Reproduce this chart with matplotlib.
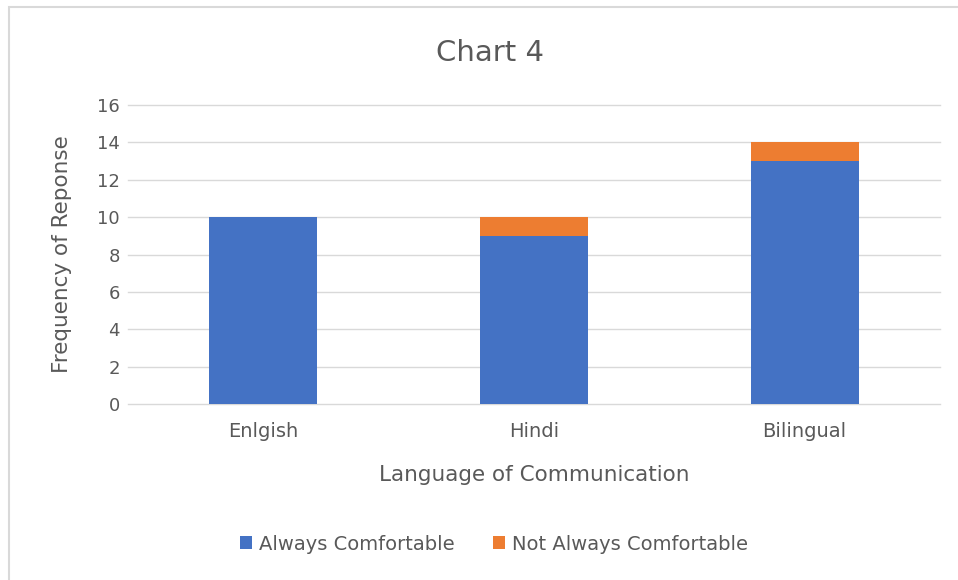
import matplotlib.pyplot as plt
from matplotlib.patches import Rectangle

languages = ['Enlgish', 'Hindi', 'Bilingual']
always = [10, 9, 13]
not_always = [0, 1, 1]
yticks = [0, 2, 4, 6, 8, 10, 12, 14, 16]

blue = '#4472C4'
orange = '#ED7D31'
grey = '#595959'

plt.rcParams['font.family'] = ['DejaVu Sans']

fig = plt.figure(figsize=(9.58, 5.8), dpi=100)
W, H = 958, 580

# light outer frame of the chart area
fig.patches.append(Rectangle((8.5 / W, -0.05), 1.0, 1 - 6.5 / H + 0.05,
                             transform=fig.transFigure, fill=False,
                             edgecolor='#D9D9D9', linewidth=1.5))

ax = fig.add_axes([128 / W, 1 - 404 / H, (940 - 128) / W, (404 - 105) / H])
x = range(len(languages))
ax.bar(x, always, width=0.4, color=blue, label='Always Comfortable', zorder=3)
ax.bar(x, not_always, width=0.4, bottom=always, color=orange,
       label='Not Always Comfortable', zorder=3)

ax.set_xlim(-0.5, 2.5)
ax.set_ylim(0, 16)
ax.set_yticks(yticks)
ax.set_xticks(list(x))
ax.set_xticklabels(languages)
ax.grid(axis='y', color='#D9D9D9', linewidth=1, zorder=0)
for gl in ax.get_ygridlines():
    gl.set_clip_on(False)
for s in ax.spines.values():
    s.set_visible(False)
ax.tick_params(length=0, colors=grey)
ax.tick_params(axis='x', pad=13, labelsize=14)
ax.tick_params(axis='y', pad=6, labelsize=13)

ax.set_xlabel('Language of Communication', fontsize=15.5, color=grey, va='center')
ax.xaxis.set_label_coords(0.5, -(475 - 404) / 299)
ax.set_ylabel('Frequency of Reponse', fontsize=15.5, color=grey, va='center')
ax.yaxis.set_label_coords((62 - 128) / 812, 0.5)
fig.text(490 / W, 1 - 53 / H, 'Chart 4', ha='center', va='center',
         fontsize=21, color=grey)

ax.legend(loc='center', bbox_to_anchor=(494 / W, 1 - 544 / H),
          bbox_transform=fig.transFigure, ncol=2, frameon=False,
          fontsize=14, labelcolor=grey, handlelength=0.6, handleheight=0.6,
          handletextpad=0.35, columnspacing=2.0)

fig.savefig('out.png', dpi=100)
